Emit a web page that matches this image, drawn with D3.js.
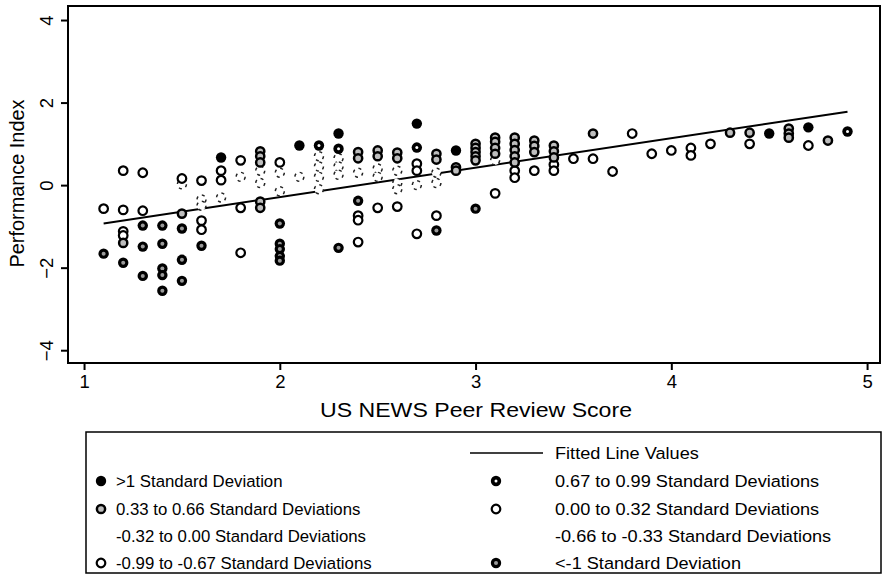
<!DOCTYPE html>
<html><head><meta charset="utf-8">
<script src="https://cdn.jsdelivr.net/npm/d3@7"></script>
<style>body{margin:0;background:#fff}svg{display:block}text{font-family:"Liberation Sans",Arial,Helvetica,sans-serif}</style>
</head><body><svg id="c" width="883" height="577"></svg>
<script>
// ---- data ----
const catLabels = {
  A: ">1 Standard Deviation",
  B: "0.67 to 0.99 Standard Deviations",
  C: "0.33 to 0.66 Standard Deviations",
  D: "0.00 to 0.32 Standard Deviations",
  E: "-0.32 to 0.00 Standard Deviations",
  F: "-0.66 to -0.33 Standard Deviations",
  G: "-0.99 to -0.67 Standard Deviations",
  H: "<-1 Standard Deviation"
};
const xVals = [
 1.1,1.1,
 1.2,1.2,1.2,1.2,1.2,1.2,
 1.3,1.3,1.3,1.3,1.3,
 1.4,1.4,1.4,1.4,1.4,
 1.5,1.5,1.5,1.5,1.5,1.5,
 1.6,1.6,1.6,1.6,1.6,1.6,
 1.7,1.7,1.7,1.7,
 1.8,1.8,1.8,1.8,
 1.9,1.9,1.9,1.9,1.9,1.9,1.9,
 2.0,2.0,2.0,2.0,2.0,2.0,2.0,2.0,
 2.1,2.1,
 2.2,2.2,2.2,2.2,2.2,
 2.3,2.3,2.3,2.3,2.3,2.3,
 2.4,2.4,2.4,2.4,2.4,2.4,2.4,
 2.5,2.5,2.5,2.5,2.5,
 2.6,2.6,2.6,2.6,2.6,2.6,
 2.7,2.7,2.7,2.7,2.7,2.7,
 2.8,2.8,2.8,2.8,2.8,2.8,
 2.9,2.9,2.9,
 3.0,3.0,3.0,3.0,3.0,3.0,
 3.1,3.1,3.1,3.1,3.1,3.1,
 3.2,3.2,3.2,3.2,3.2,3.2,3.2,
 3.3,3.3,3.3,3.3,
 3.4,3.4,3.4,3.4,3.4,
 3.5,
 3.6,3.6,
 3.7,3.8,3.9,4.0,
 4.1,4.1,
 4.2,4.3,
 4.4,4.4,
 4.5,
 4.6,4.6,4.6,
 4.7,4.7,
 4.8,4.9
];
const yVals = [
 -0.57,-1.66,
 0.35,-0.6,-1.12,-1.22,-1.4,-1.88,
 0.3,-0.62,-0.98,-1.49,-2.2,
 -0.98,-1.42,-2.02,-2.18,-2.56,
 0.16,0.02,-0.69,-1.05,-1.81,-2.32,
 0.11,-0.35,-0.5,-0.86,-1.08,-1.47,
 0.67,0.35,0.12,-0.3,
 0.6,0.2,-0.55,-1.64,
 0.82,0.7,0.55,0.35,0.05,-0.4,-0.55,
 0.55,0.3,-0.15,-0.93,-1.42,-1.55,-1.72,-1.83,
 0.96,0.2,
 0.96,0.7,0.45,0.2,-0.1,
 1.25,0.88,0.65,0.45,0.25,-1.52,
 0.8,0.65,0.3,-0.38,-0.74,-0.85,-1.38,
 0.84,0.7,0.4,0.2,-0.55,
 0.79,0.65,0.35,0.05,-0.1,-0.52,
 1.49,0.91,0.52,0.35,0.0,-1.18,
 0.76,0.62,0.3,0.05,-0.74,-1.1,
 0.84,0.43,0.35,
 1.0,0.9,0.8,0.7,0.6,-0.57,
 1.15,1.05,0.9,0.76,0.6,-0.2,
 1.15,1.0,0.85,0.7,0.55,0.35,0.18,
 1.08,0.95,0.8,0.35,
 0.96,0.82,0.67,0.5,0.35,
 0.64,
 1.25,0.64,
 0.33,1.25,0.76,0.84,
 0.9,0.72,
 1.0,1.27,
 1.27,1.0,
 1.25,
 1.37,1.25,1.15,
 1.4,0.96,
 1.08,1.3
];
const cats = [
 "D","H",
 "D","D","G","G","C","H",
 "D","G","H","H","H",
 "H","H","H","H","H",
 "D","E","C","H","H","H",
 "D","E","F","G","G","H",
 "A","D","D","E",
 "D","F","G","G",
 "C","C","C","E","E","C","C",
 "D","E","E","H","H","H","H","H",
 "A","E",
 "B","E","E","F","F",
 "A","B","E","E","F","H",
 "C","C","E","H","G","G","G",
 "C","C","E","E","G",
 "C","C","E","E","F","G",
 "A","B","D","D","F","G",
 "C","C","E","F","G","H",
 "A","C","C",
 "C","C","C","C","C","H",
 "C","C","C","C","E","G",
 "C","C","C","C","C","D","D",
 "C","C","C","D",
 "C","C","C","D","D",
 "D",
 "C","D",
 "D","D","D","D",
 "D","D",
 "D","C",
 "C","D",
 "A",
 "C","C","C",
 "A","D",
 "C","B"
];
const fitX = [1.1, 4.9];
const fitY = [-0.93, 1.78];
const xTicks = [1, 2, 3, 4, 5];
const yTicks = [-4, -2, 0, 2, 4];
const legendLeft = ["A", "C", "E", "G"];
const legendRight = ["B", "D", "F", "H"];

// ---- drawing ----
const svg = d3.select("#c");
const L = 68, R = 880, T = 6, B = 363;
const x = d3.scaleLinear().domain([0.918, 5.066]).range([L, R]);
const y = d3.scaleLinear().domain([-4.31, 4.34]).range([B, T]);

function drawMarker(g, c) {
  if (c === "A") {
    g.append("circle").attr("r", 5.2).attr("fill", "#000");
  } else if (c === "B") {
    g.append("circle").attr("r", 5.2).attr("fill", "#000");
    g.append("circle").attr("r", 1.5).attr("fill", "#fff");
  } else if (c === "C") {
    g.append("circle").attr("r", 4.1).attr("fill", "#bdbdbd").attr("stroke", "#000").attr("stroke-width", 2.5);
  } else if (c === "D" || c === "G") {
    g.append("circle").attr("r", 4.3).attr("fill", "#fff").attr("stroke", "#000").attr("stroke-width", 2.2);
  } else if (c === "E" || c === "F") {
    g.append("circle").attr("r", 4.5).attr("fill", "#fff").attr("stroke", "#222").attr("stroke-width", 1.5).attr("stroke-dasharray", "3,4");
  } else if (c === "H") {
    g.append("circle").attr("r", 5.2).attr("fill", "#000");
    g.append("circle").attr("r", 2).attr("fill", "#9a9a9a");
  }
}

// fitted line
const fit = fitX.map((v, i) => [v, fitY[i]]);
svg.append("path").datum(fit)
  .attr("d", d3.line().x(d => x(d[0])).y(d => y(d[1])))
  .attr("stroke", "#000").attr("stroke-width", 2).attr("fill", "none");

// points (faint ones first, then others)
const pts = xVals.map((v, i) => ({x: v, y: yVals[i], c: cats[i]}));
const order = {E:0, F:0, D:1, G:1, C:2, H:2, B:3, A:3};
pts.sort((a, b) => order[a.c] - order[b.c]);
pts.forEach(p => {
  const g = svg.append("g").attr("transform", `translate(${x(p.x)},${y(p.y)})`);
  drawMarker(g, p.c);
});

// frame
svg.append("rect").attr("x", L).attr("y", T).attr("width", R - L).attr("height", B - T)
  .attr("fill", "none").attr("stroke", "#000").attr("stroke-width", 2);

// axes
const xa = svg.append("g").attr("transform", `translate(0,${B})`)
  .call(d3.axisBottom(x).tickValues(xTicks).tickSize(7).tickPadding(5).tickFormat(d3.format("d")));
xa.select(".domain").remove();
xa.selectAll("line").attr("stroke-width", 2);
xa.selectAll("text").attr("font-size", 18.5).attr("fill", "#000");

const ya = svg.append("g").attr("transform", `translate(${L},0)`)
  .call(d3.axisLeft(y).tickValues(yTicks).tickSize(7).tickFormat(d3.format("d")));
ya.select(".domain").remove();
ya.selectAll("line").attr("stroke-width", 2);
ya.selectAll("text").attr("font-size", 18.5).attr("fill", "#000")
  .attr("x", null).attr("dy", null)
  .attr("text-anchor", "middle")
  .attr("transform", "translate(-15,0) rotate(-90)")
  .attr("dominant-baseline", "auto");

svg.append("text").attr("x", 476).attr("y", 417).attr("text-anchor", "middle")
  .attr("font-size", 20).attr("textLength", 312).attr("lengthAdjust", "spacingAndGlyphs")
  .text("US NEWS Peer Review Score");
svg.append("text").attr("transform", `translate(24,${(T + B) / 2 - 1}) rotate(-90)`)
  .attr("text-anchor", "middle").attr("font-size", 20).attr("textLength", 168).attr("lengthAdjust", "spacingAndGlyphs")
  .text("Performance Index");

// legend
const lg = svg.append("g");
lg.append("rect").attr("x", 86).attr("y", 432).attr("width", 795).attr("height", 141)
  .attr("fill", "none").attr("stroke", "#000").attr("stroke-width", 1.5);
lg.append("line").attr("x1", 470).attr("x2", 543).attr("y1", 453).attr("y2", 453)
  .attr("stroke", "#000").attr("stroke-width", 1.5);
lg.append("text").attr("transform", "translate(555,459) scale(1.1,1)").attr("font-size", 16.5).text("Fitted Line Values");
const rowY = [481, 509, 536, 563];
legendLeft.forEach((c, i) => {
  if (c !== "E" && c !== "F") drawMarker(lg.append("g").attr("transform", `translate(101,${rowY[i]})`), c);
  lg.append("text").attr("x", 116).attr("y", rowY[i] + 6).attr("font-size", 16.8).text(catLabels[c]);
});
legendRight.forEach((c, i) => {
  if (c !== "E" && c !== "F") drawMarker(lg.append("g").attr("transform", `translate(496,${rowY[i]})`), c);
  lg.append("text").attr("transform", `translate(555,${rowY[i] + 6}) scale(1.1,1)`).attr("font-size", 16.5).text(catLabels[c]);
});
</script></body></html>
